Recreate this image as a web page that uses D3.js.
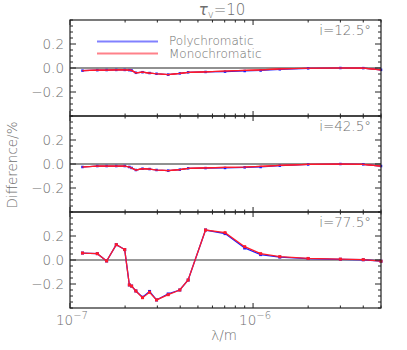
<!DOCTYPE html>
<html>
<head>
<meta charset="utf-8">
<script src="https://cdn.jsdelivr.net/npm/d3@7"></script>
<style>
body { margin: 0; background: #fff; }
text { font-family: "DejaVu Sans", sans-serif; font-weight: 200; fill: #6e6e6e; }
</style>
</head>
<body>
<svg id="chart" width="407" height="350"></svg>
<script>
// wavelengths in metres
var lambda = [1.17e-7, 1.41e-7, 1.585e-7, 1.79e-7, 1.99e-7, 2.11e-7, 2.17e-7, 2.29e-7, 2.49e-7, 2.72e-7, 2.97e-7,
    3.44e-7, 3.98e-7, 4.42e-7, 5.5e-7, 7.03e-7, 9.0e-7, 1.1e-6, 1.4e-6, 2.0e-6, 3.0e-6, 4.0e-6, 5.0e-6];

var mono125 = [-0.022, -0.018, -0.017, -0.016, -0.016, -0.018, -0.02, -0.04, -0.035, -0.042, -0.048,
    -0.055, -0.045, -0.036, -0.032, -0.025, -0.02, -0.015, -0.008, -0.002, 0.0, -0.001, -0.015];
var poly125 = [-0.022, -0.018, -0.017, -0.016, -0.016, -0.018, -0.02, -0.04, -0.035, -0.042, -0.048,
    -0.055, -0.045, -0.036, -0.033, -0.03, -0.025, -0.021, -0.011, -0.003, 0.0, -0.001, -0.015];

var mono425 = [-0.025, -0.017, -0.017, -0.017, -0.017, -0.025, -0.033, -0.05, -0.039, -0.042, -0.05,
    -0.055, -0.047, -0.036, -0.033, -0.028, -0.025, -0.019, -0.011, -0.003, 0.0, -0.003, -0.017];
var poly425 = [-0.025, -0.017, -0.017, -0.017, -0.017, -0.025, -0.033, -0.05, -0.039, -0.042, -0.05,
    -0.055, -0.047, -0.036, -0.034, -0.033, -0.028, -0.025, -0.014, -0.004, 0.0, -0.003, -0.017];

var mono775 = [0.058, 0.053, -0.008, 0.128, 0.087, -0.208, -0.217, -0.258, -0.314, -0.269, -0.333,
    -0.289, -0.25, -0.167, 0.25, 0.228, 0.111, 0.053, 0.028, 0.013, 0.007, 0.003, -0.01];
var poly775 = [0.058, 0.053, -0.008, 0.128, 0.087, -0.208, -0.217, -0.258, -0.31, -0.262, -0.333,
    -0.283, -0.25, -0.167, 0.25, 0.22, 0.10, 0.045, 0.024, 0.012, 0.006, 0.002, -0.01];

var panelLabels = ["i=12.5°", "i=42.5°", "i=77.5°"];
var yTickValues = [-0.2, 0.0, 0.2];
var xTickExponents = [-7, -6];

var panels = [
    { label: panelLabels[0], poly: poly125, mono: mono125 },
    { label: panelLabels[1], poly: poly425, mono: mono425 },
    { label: panelLabels[2], poly: poly775, mono: mono775 }
];

var svg = d3.select("#chart");
var left = 70, right = 381, top0 = 20, ph = 96;

var x = d3.scaleLog().domain([1e-7, 5e-6]).range([left, right]);

var minorX = [];
[1e-7, 1e-6].forEach(function (d) {
    for (var k = 2; k <= 9; k++) { if (d * k <= 5e-6) minorX.push(d * k); }
});
var minorY = d3.range(-0.4, 0.4001, 0.05).map(function (v) { return Math.round(v * 100) / 100; });

var line = function (yscale) {
    return d3.line()
        .x(function (d, i) { return x(lambda[i]); })
        .y(function (d) { return yscale(d); });
};

panels.forEach(function (p, idx) {
    var t = top0 + idx * ph;
    var y = d3.scaleLinear().domain([-0.4, 0.4]).range([t + ph, t]);
    var g = svg.append("g");
    var big = idx === 2;

    // zero line
    g.append("line")
        .attr("x1", left).attr("x2", right)
        .attr("y1", y(0)).attr("y2", y(0))
        .attr("stroke", big ? "#999" : "#222")
        .attr("stroke-width", big ? 2 : 1);

    // series: poly (blue) under mono (red)
    [["poly", "#1a1aff"], ["mono", "#ff1a2a"]].forEach(function (s) {
        var vals = p[s[0]];
        g.append("path")
            .attr("d", line(y)(vals))
            .attr("fill", "none")
            .attr("stroke", s[1])
            .attr("stroke-width", big ? 1.3 : 1.2);
        if (big || s[0] === "poly") {
            var ms = big ? 3 : 2.5;
            g.selectAll(".m" + s[0])
                .data(vals)
                .enter()
                .append("rect")
                .attr("x", function (d, i) { return x(lambda[i]) - ms / 2; })
                .attr("y", function (d) { return y(d) - ms / 2; })
                .attr("width", ms)
                .attr("height", ms)
                .attr("fill", s[1]);
        }
    });
    if (!big) {
        // red line drawn again over the blue markers
        g.append("path")
            .attr("d", line(y)(p.mono))
            .attr("fill", "none")
            .attr("stroke", "#ff1a2a")
            .attr("stroke-width", 1.2);
    }

    // x ticks, top and bottom, inward
    xTickExponents.forEach(function (e) {
        var xv = x(Math.pow(10, e));
        g.append("line").attr("x1", xv).attr("x2", xv).attr("y1", t).attr("y2", t + 5).attr("stroke", "#222");
        g.append("line").attr("x1", xv).attr("x2", xv).attr("y1", t + ph).attr("y2", t + ph - 5).attr("stroke", "#222");
    });
    minorX.forEach(function (v) {
        var xv = x(v);
        g.append("line").attr("x1", xv).attr("x2", xv).attr("y1", t).attr("y2", t + 2.5).attr("stroke", "#222");
        g.append("line").attr("x1", xv).attr("x2", xv).attr("y1", t + ph).attr("y2", t + ph - 2.5).attr("stroke", "#222");
    });

    // y ticks, left and right, inward
    minorY.forEach(function (v) {
        var major = yTickValues.some(function (m) { return Math.abs(m - v) < 1e-6; });
        var len = major ? 6 : 3;
        var yv = y(v);
        g.append("line").attr("x1", left).attr("x2", left + len).attr("y1", yv).attr("y2", yv).attr("stroke", "#222");
        g.append("line").attr("x1", right).attr("x2", right - len).attr("y1", yv).attr("y2", yv).attr("stroke", "#222");
    });

    // y tick labels
    g.selectAll(".ylab")
        .data(yTickValues)
        .enter()
        .append("text")
        .attr("x", left - 6)
        .attr("y", function (d) { return y(d) + 5; })
        .attr("text-anchor", "end")
        .attr("font-size", 13.5)
        .text(function (d) { return (d < 0 ? "\u2212" : "") + Math.abs(d).toFixed(1); });

    // frame
    g.append("rect")
        .attr("x", left).attr("y", t)
        .attr("width", right - left).attr("height", ph)
        .attr("fill", "none")
        .attr("stroke", "#222")
        .attr("stroke-width", 1.2);

    // panel label
    g.append("text")
        .attr("x", right - 10)
        .attr("y", t + 15)
        .attr("text-anchor", "end")
        .attr("font-size", 13.5)
        .text(p.label);
});

// x tick labels on bottom panel
xTickExponents.forEach(function (e) {
    var lab = svg.append("text")
        .attr("x", x(Math.pow(10, e)) + 2)
        .attr("y", 325)
        .attr("text-anchor", "middle")
        .attr("font-size", 13.5);
    lab.append("tspan").text("10");
    lab.append("tspan").attr("dy", -6).attr("font-size", 10).text("\u2212" + (-e));
});

// x axis title
svg.append("text")
    .attr("x", 224).attr("y", 340)
    .attr("text-anchor", "middle")
    .attr("font-size", 13.5)
    .text("\u03bb/m");

// y axis title
svg.append("text")
    .attr("transform", "translate(17,165) rotate(-90)")
    .attr("text-anchor", "middle")
    .attr("font-size", 13.5)
    .text("Difference/%");

// chart title
var title = svg.append("text")
    .attr("x", 222).attr("y", 15)
    .attr("text-anchor", "middle")
    .attr("font-size", 15);
title.append("tspan").attr("font-style", "italic").text("\u03c4");
title.append("tspan").attr("dy", 3).attr("font-size", 10).text("v");
title.append("tspan").attr("dy", -3).text("=10");

// legend
var legend = [["Polychromatic", "#1a1aff"], ["Monochromatic", "#ff1a2a"]];
legend.forEach(function (l, i) {
    var ly = 41.5 + i * 12;
    svg.append("line")
        .attr("x1", 97).attr("x2", 158)
        .attr("y1", ly).attr("y2", ly)
        .attr("stroke", l[1])
        .attr("stroke-opacity", 0.55)
        .attr("stroke-width", 2);
    svg.append("text")
        .attr("x", 169).attr("y", ly + 3 + i * 1)
        .attr("font-size", 12)
        .text(l[0]);
});
</script>
</body>
</html>
